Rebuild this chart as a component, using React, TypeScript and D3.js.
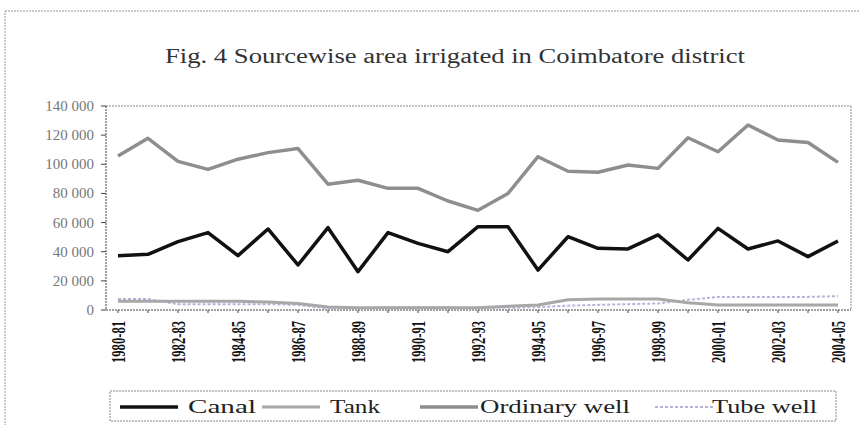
import React from "react";
import * as d3 from "d3";

const years = [
  "1980-81", "1981-82", "1982-83", "1983-84", "1984-85", "1985-86", "1986-87",
  "1987-88", "1988-89", "1989-90", "1990-91", "1991-92", "1992-93", "1993-94",
  "1994-95", "1995-96", "1996-97", "1997-98", "1998-99", "1999-00", "2000-01",
  "2001-02", "2002-03", "2003-04", "2004-05",
];
const canal = [
  37300, 38200, 46900, 53100, 37300, 55600, 30900, 56500, 26300, 53100, 45700,
  40000, 57200, 57200, 27400, 50300, 42300, 41900, 51500, 34300, 56000, 41900,
  47400, 36600, 47400,
];
const tank = [
  6000, 6000, 6000, 6000, 6000, 5500, 4500, 2000, 1500, 1500, 1500, 1500, 1500,
  2500, 3500, 7000, 7500, 7500, 7500, 5000, 3500, 3500, 3500, 3500, 3500,
];
const ordinaryWell = [
  105700, 117800, 102000, 96500, 103500, 108000, 110800, 86300, 89000, 83500,
  83500, 74800, 68400, 80000, 105200, 95200, 94500, 99500, 97200, 118200,
  108600, 127000, 116700, 115000, 101300,
];
const tubeWell = [
  7500, 7500, 4000, 4000, 4000, 4000, 3500, 1000, 1500, 2000, 2000, 2000, 1500,
  1500, 2000, 3000, 3500, 4000, 4500, 7000, 9000, 9000, 9000, 9000, 9500,
];
const yTicks = [0, 20000, 40000, 60000, 80000, 100000, 120000, 140000];
const seriesNames = ["Canal", "Tank", "Ordinary well", "Tube well"];
const title = "Fig. 4 Sourcewise area irrigated in Coimbatore district";

export default function App() {
  const W = 859, H = 425;
  const left = 106, right = 851, top = 106, bottom = 310;
  const x = d3.scalePoint<string>().domain(years).range([118, 838]);
  const y = d3.scaleLinear().domain([0, 140000]).range([bottom, top]);
  const line = d3
    .line<number>()
    .x((_, i) => x(years[i]) as number)
    .y((d) => y(d));
  const fmt = (v: number) =>
    v === 0 ? "0" : d3.format(",")(v).replace(",", " ");

  const styles = [
    { stroke: "#111", width: 3.5, dash: undefined as string | undefined },
    { stroke: "#a8a8a8", width: 3, dash: undefined },
    { stroke: "#8e8e8e", width: 3.5, dash: undefined },
    { stroke: "#b4b4d8", width: 2, dash: "3,2" },
  ];
  const data = [canal, tank, ordinaryWell, tubeWell];
  const legendX = [120, 262, 420, 655];
  const labelX = [188, 330, 480, 712];
  const labelLen = [68, 50, 150, 105];

  return (
    <svg width={W} height={H} style={{ position: "absolute", left: 0, top: 0, background: "#fff" }}>
      <rect x={5} y={11} width={900} height={500} fill="#fff" stroke="#999" strokeDasharray="2,1" />
      <text
        x={455}
        y={63}
        textAnchor="middle"
        fontFamily="Liberation Serif"
        fontSize={20}
        fill="#333"
        textLength={580}
        lengthAdjust="spacingAndGlyphs"
      >
        {title}
      </text>
      {/* plot frame */}
      <line x1={left} x2={right} y1={top} y2={top} stroke="#888" strokeDasharray="2,1" />
      <line x1={right} x2={right} y1={top} y2={bottom} stroke="#888" strokeDasharray="2,1" />
      <line x1={left} x2={left} y1={top} y2={bottom} stroke="#444" strokeDasharray="2,1" />
      <line x1={left} x2={right} y1={bottom} y2={bottom} stroke="#444" strokeDasharray="2,1" />
      {yTicks.map((t) => (
        <g key={t}>
          <line x1={left - 5} x2={left} y1={y(t)} y2={y(t)} stroke="#444" />
          <text
            x={94}
            y={y(t) + 5}
            textAnchor="end"
            fontFamily="Liberation Serif"
            fontSize={15}
            fill="#777"
          >
            {fmt(t)}
          </text>
        </g>
      ))}
      {years.map((yr) => (
        <line
          key={yr}
          x1={x(yr)}
          x2={x(yr)}
          y1={bottom}
          y2={bottom + 3}
          stroke="#444"
        />
      ))}
      {years.map((yr, i) =>
        i % 2 === 0 ? (
          <text
            key={"l" + yr}
            transform={`translate(${(x(yr) as number) + 7},${321}) rotate(-90)`}
            textAnchor="end"
            fontFamily="Liberation Serif"
            fontSize={19}
            fontWeight="bold"
            fill="#111"
            textLength={42}
            lengthAdjust="spacingAndGlyphs"
          >
            {yr}
          </text>
        ) : null
      )}
      {[tubeWell, tank, ordinaryWell, canal].map((d) => {
        const k = data.indexOf(d);
        const s = styles[k];
        return (
          <path
            key={k}
            d={line(d) as string}
            fill="none"
            stroke={s.stroke}
            strokeWidth={s.width}
            strokeDasharray={s.dash}
            strokeLinejoin="round"
          />
        );
      })}
      {/* legend */}
      <rect x={110} y={391} width={726} height={30} fill="#fff" stroke="#888" strokeDasharray="2,1" />
      {seriesNames.map((n, k) => (
        <g key={n}>
          <line
            x1={legendX[k]}
            x2={legendX[k] + 58}
            y1={407}
            y2={407}
            stroke={styles[k].stroke}
            strokeWidth={styles[k].width}
            strokeDasharray={styles[k].dash}
          />
          <text
            x={labelX[k]}
            y={413}
            fontFamily="Liberation Serif"
            fontSize={18}
            fill="#222"
            textLength={labelLen[k]}
            lengthAdjust="spacingAndGlyphs"
          >
            {n}
          </text>
        </g>
      ))}
    </svg>
  );
}
